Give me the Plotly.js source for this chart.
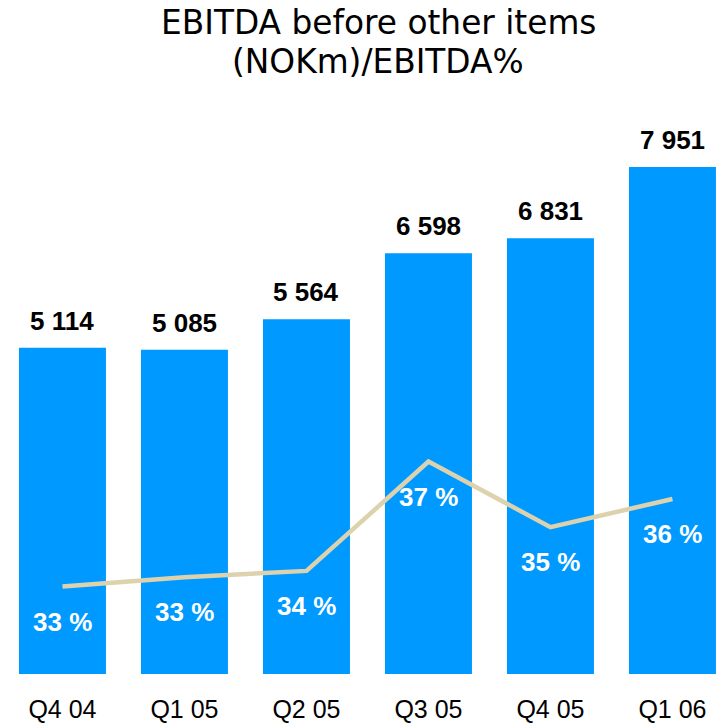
<!DOCTYPE html>
<html>
<head>
<meta charset="utf-8">
<script src="https://cdn.plot.ly/plotly-3.0.1.min.js"></script>
<style>html,body{margin:0;padding:0;background:#fff;}#chart{width:727px;height:724px;}</style>
</head>
<body>
<div id="chart"></div>
<script>
var categories = ["Q4 04", "Q1 05", "Q2 05", "Q3 05", "Q4 05", "Q1 06"];
var ebitda = [5114, 5085, 5564, 6598, 6831, 7951];
var ebitdaLabels = ["5 114", "5 085", "5 564", "6 598", "6 831", "7 951"];
var margin = [33.0, 33.3, 33.5, 37.0, 34.9, 35.8];
var marginLabels = ["33 %", "33 %", "34 %", "37 %", "35 %", "36 %"];
var titleLines = ["EBITDA before other items", "(NOKm)/EBITDA%"];

var FONT = "Liberation Sans, Arial, sans-serif";
var TOP = 100, PLOT_H = 574;
function paperY(px) { return (TOP + PLOT_H - px) / PLOT_H; }

var bars = {
  type: "bar",
  x: categories,
  y: ebitda,
  marker: {color: "#0099FF"},
  hoverinfo: "none"
};
var line = {
  type: "scatter",
  mode: "lines",
  x: categories,
  y: margin,
  yaxis: "y2",
  line: {color: "#DCD2AE", width: 4.5},
  cliponaxis: false,
  hoverinfo: "none"
};

var annotations = [];
categories.forEach(function (c, i) {
  annotations.push({
    x: c, y: ebitda[i], xref: "x", yref: "y",
    text: ebitdaLabels[i], showarrow: false,
    yanchor: "middle", yshift: 27,
    font: {family: FONT, size: 26, color: "#000000", weight: "bold"}
  });
  annotations.push({
    x: c, y: margin[i], xref: "x", yref: "y2",
    text: marginLabels[i], showarrow: false,
    yanchor: "middle", yshift: -35,
    font: {family: FONT, size: 26, color: "#FFFFFF", weight: "bold"}
  });
});
var titleY = [23, 62];
titleLines.forEach(function (t, i) {
  annotations.push({
    x: 0.52, xref: "paper", xanchor: "center",
    y: paperY(titleY[i]), yref: "paper", yanchor: "middle",
    text: t, showarrow: false,
    font: {family: "DejaVu Sans, Verdana, sans-serif", size: 32.8, color: "#000000"}
  });
});

var layout = {
  width: 727,
  height: 724,
  margin: {l: 0, r: 0, t: TOP, b: 724 - TOP - PLOT_H, pad: 0},
  paper_bgcolor: "#FFFFFF",
  plot_bgcolor: "#FFFFFF",
  showlegend: false,
  bargap: 0.287,
  xaxis: {
    type: "category",
    range: [-0.512, 5.447],
    showgrid: false, zeroline: false, showline: false, ticks: "",
    tickfont: {family: FONT, size: 25, color: "#000000"},
    ticklabelstandoff: 18,
    fixedrange: true
  },
  yaxis: {
    range: [0, 9000],
    visible: false, showgrid: false, zeroline: false,
    fixedrange: true
  },
  yaxis2: {
    range: [30.2, 48.57],
    overlaying: "y",
    visible: false, showgrid: false, zeroline: false,
    fixedrange: true
  },
  annotations: annotations
};

Plotly.newPlot("chart", [bars, line], layout, {displayModeBar: false, staticPlot: true});
</script>
</body>
</html>
